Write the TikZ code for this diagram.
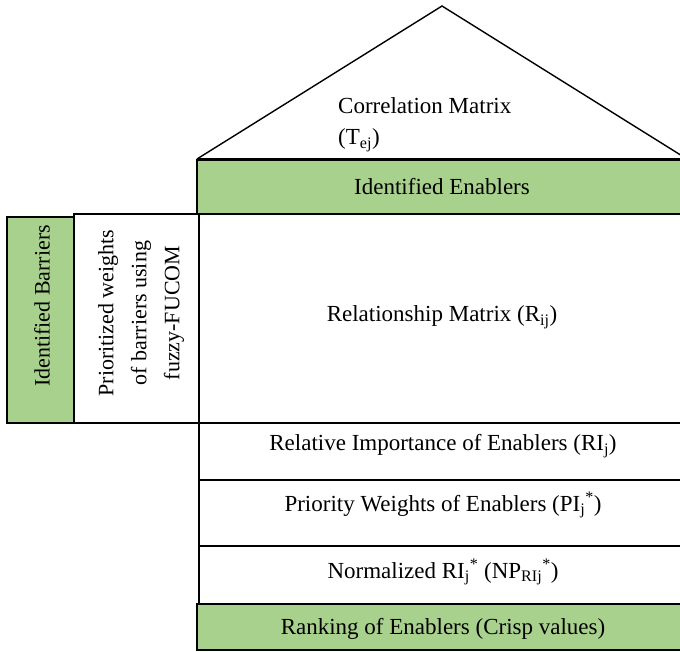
\documentclass[tikz,border=0pt]{standalone}
\usepackage{fontspec}
\setmainfont{Liberation Serif}
\usetikzlibrary{positioning}
\definecolor{hqgreen}{HTML}{A9D18E}

\begin{document}
\begin{tikzpicture}[x=1pt,y=-1pt,
    box/.style={draw, line width=1.4pt, inner sep=0pt, outer sep=0pt, anchor=north west},
    greenbox/.style={box, fill=hqgreen},
    lbl/.style={font=\fontsize{23}{31}\selectfont, inner sep=0pt},
    sidelbl/.style={font=\fontsize{22}{33}\selectfont, inner sep=0pt, rotate=90}]
  \useasboundingbox (0,0) rectangle (680,652);
  \clip (0,0) rectangle (680,652);
  % roof
  \coordinate (roofl) at (197,159);
  \coordinate (apex) at (442,6);
  \coordinate (roofr) at (687,159);
  \draw[line width=1.4pt, line join=miter] (roofl) -- (apex) -- (roofr);
  \node[lbl, align=left, anchor=west] (corr) at (338,125) {Correlation Matrix\\(T\textsubscript{ej})};
  % columns of the house
  \node[greenbox, minimum width=490pt, minimum height=54pt] (enablers) at (197,160) {};
  \draw[line width=3pt] (enablers.north west) -- (enablers.north east);
  \node[box, minimum width=488pt, minimum height=209pt] (relmat) at (199,214) {};
  \node[greenbox, minimum width=67pt, minimum height=206pt] (barriers) at (7,217) {};
  \node[box, minimum width=125pt, minimum height=209pt] (weights) at (74,214) {};
  \node[box, minimum width=488pt, minimum height=57pt] (ri) at (199,423) {};
  \node[box, minimum width=488pt, minimum height=66pt] (pi) at (199,480) {};
  \node[box, minimum width=488pt, minimum height=58pt] (npr) at (199,546) {};
  \node[greenbox, minimum width=490pt, minimum height=46pt] (rank) at (197,604) {};
  \draw[line width=2.5pt] (relmat.north west) -- (relmat.south west);
  % texts
  \node[lbl] (enablerstxt) at (442,187) {Identified Enablers};
  \node[lbl] (relmattxt) at (442,317) {Relationship Matrix (R\textsubscript{ij})};
  \node[sidelbl] (barrierstxt) at (42,306) {Identified Barriers};
  \node[sidelbl, align=center] (weightstxt) at (141,313) {Prioritized weights\\of barriers using\\fuzzy-FUCOM};
  \node[lbl] (ritxt) at (443,446) {Relative Importance of Enablers (RI\textsubscript{j})};
  \node[lbl] (pitxt) at (443,505) {Priority Weights of Enablers (PI\textsubscript{j}\textsuperscript{*})};
  \node[lbl] (nprtxt) at (443,572) {Normalized RI\textsubscript{j}\textsuperscript{*} (NP\textsubscript{RIj}\textsuperscript{*})};
  \node[lbl] (ranktxt) at (443,629) {Ranking of Enablers (Crisp values)};
\end{tikzpicture}
\end{document}
